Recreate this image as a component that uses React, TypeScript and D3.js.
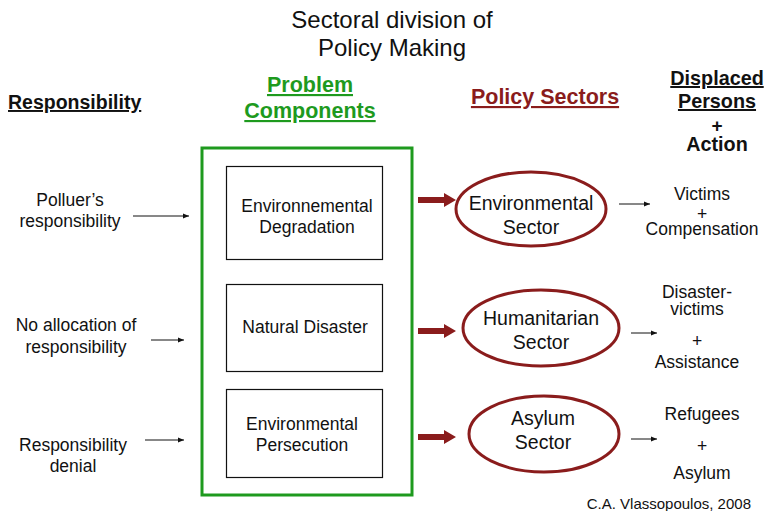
import React from "react";
import * as d3 from "d3";

const titleLines = ["Sectoral division of", "Policy Making"];
const responsibilityLabels = [["Polluer\u2019s", "responsibility"], ["No allocation of", "responsibility"], ["Responsibility", "denial"]];
const problemComponents = [["Environnemental", "Degradation"], ["Natural Disaster"], ["Environmental", "Persecution"]];
const policySectors = [["Environmental", "Sector"], ["Humanitarian", "Sector"], ["Asylum", "Sector"]];
const outcomes = [["Victims", "+", "Compensation"], ["Disaster-", "victims", "+", "Assistance"], ["Refugees", "+", "Asylum"]];
const credit = "C.A. Vlassopoulos, 2008";

const GREEN = "#1e9a1e";
const RED = "#8a1c1c";
const FONT = "'Liberation Sans', Arial, Helvetica, sans-serif";

// layout per row
const rowIdx = d3.range(3);
const leftText = [{ x: 70, ys: [200, 221] }, { x: 76, ys: [325, 347] }, { x: 73, ys: [445, 466] }];
const leftArrow = [{ x1: 133, x2: 189, y: 216 }, { x1: 151, x2: 184, y: 340 }, { x1: 145, x2: 184, y: 440 }];
const boxes = [{ y: 166, h: 93 }, { y: 284, h: 87 }, { y: 389, h: 88 }];
const boxText = [{ x: 307, ys: [206, 227] }, { x: 305, ys: [327] }, { x: 302, ys: [424, 445] }];
const redArrowY = [200, 331, 437];
const ellipses = [{ cx: 531, cy: 209, rx: 75, ry: 37 }, { cx: 541, cy: 328, rx: 78, ry: 38 }, { cx: 544, cy: 434, rx: 75, ry: 38 }];
const ellipseText = [{ x: 531, ys: [203, 227] }, { x: 541, ys: [318, 342] }, { x: 543, ys: [418, 442] }];
const rightArrow = [{ x1: 619, x2: 650, y: 204 }, { x1: 631, x2: 657, y: 333 }, { x1: 631, x2: 657, y: 439 }];
const rightText = [{ x: 702, ys: [194, 214, 229] }, { x: 697, ys: [292, 309, 341, 362] }, { x: 702, ys: [414, 446, 473] }];

function redArrowPath(x1: number, x2: number, y: number) {
  const p = d3.path();
  const hw = 3, hh = 7, hl = 12;
  p.moveTo(x1, y - hw);
  p.lineTo(x2 - hl, y - hw);
  p.lineTo(x2 - hl, y - hh);
  p.lineTo(x2, y);
  p.lineTo(x2 - hl, y + hh);
  p.lineTo(x2 - hl, y + hw);
  p.lineTo(x1, y + hw);
  p.closePath();
  return p.toString();
}

export default function App() {
  return (
    <svg width={766} height={511} style={{ position: "absolute", left: 0, top: 0, background: "#fff" }} fontFamily={FONT}>
      <defs>
        <marker id="ah" viewBox="0 0 10 10" refX="10" refY="5" markerWidth="6" markerHeight="6" markerUnits="userSpaceOnUse" orient="auto">
          <path d="M0,1 L10,5 L0,9 Z" fill="#111" />
        </marker>
      </defs>
      <rect width={766} height={511} fill="#fff" />
      {titleLines.map((t, i) => (
        <text key={t} x={392} y={28 + i * 28} textAnchor="middle" fontSize={24} fill="#111">{t}</text>
      ))}
      {/* headers */}
      <text x={8} y={109} fontSize={19.5} fontWeight="bold" fill="#111" textDecoration="underline">Responsibility</text>
      <text x={310} y={92} textAnchor="middle" fontSize={21.5} fontWeight="bold" fill={GREEN} textDecoration="underline">Problem</text>
      <text x={310} y={118} textAnchor="middle" fontSize={21.5} fontWeight="bold" fill={GREEN} textDecoration="underline">Components</text>
      <text x={545} y={104} textAnchor="middle" fontSize={21.5} fontWeight="bold" fill={RED} textDecoration="underline">Policy Sectors</text>
      <text x={717} y={85} textAnchor="middle" fontSize={19.8} fontWeight="bold" fill="#111" textDecoration="underline">Displaced</text>
      <text x={717} y={108} textAnchor="middle" fontSize={19.8} fontWeight="bold" fill="#111" textDecoration="underline">Persons</text>
      <text x={717} y={132} textAnchor="middle" fontSize={19} fontWeight="bold" fill="#111">+</text>
      <text x={717} y={151} textAnchor="middle" fontSize={19.8} fontWeight="bold" fill="#111">Action</text>

      {/* green container */}
      <rect x={202} y={148} width={210} height={347} fill="none" stroke={GREEN} strokeWidth={3} />

      {rowIdx.map((i) => (
        <g key={i}>
          {responsibilityLabels[i].map((t, j) => (
            <text key={j} x={leftText[i].x} y={leftText[i].ys[j] + 6} textAnchor="middle" fontSize={17.5} fill="#111">{t}</text>
          ))}
          <line x1={leftArrow[i].x1} x2={leftArrow[i].x2} y1={leftArrow[i].y} y2={leftArrow[i].y} stroke="#111" strokeWidth={1} markerEnd="url(#ah)" />
          <rect x={226.5} y={boxes[i].y + 0.5} width={156} height={boxes[i].h} fill="none" stroke="#111" strokeWidth={1.2} />
          {problemComponents[i].map((t, j) => (
            <text key={j} x={boxText[i].x} y={boxText[i].ys[j] + 6} textAnchor="middle" fontSize={17.5} fill="#111">{t}</text>
          ))}
          <path d={redArrowPath(418, 456, redArrowY[i])} fill={RED} />
          <ellipse cx={ellipses[i].cx} cy={ellipses[i].cy} rx={ellipses[i].rx} ry={ellipses[i].ry} fill="none" stroke={RED} strokeWidth={3} />
          {policySectors[i].map((t, j) => (
            <text key={j} x={ellipseText[i].x} y={ellipseText[i].ys[j] + 7} textAnchor="middle" fontSize={19.5} fill="#111">{t}</text>
          ))}
          <line x1={rightArrow[i].x1} x2={rightArrow[i].x2} y1={rightArrow[i].y} y2={rightArrow[i].y} stroke="#111" strokeWidth={1} markerEnd="url(#ah)" />
          {outcomes[i].map((t, j) => (
            <text key={j} x={rightText[i].x} y={rightText[i].ys[j] + 6} textAnchor="middle" fontSize={17.5} fill="#111">{t}</text>
          ))}
        </g>
      ))}
      <text x={751} y={509} textAnchor="end" fontSize={15} fill="#111">{credit}</text>
    </svg>
  );
}
